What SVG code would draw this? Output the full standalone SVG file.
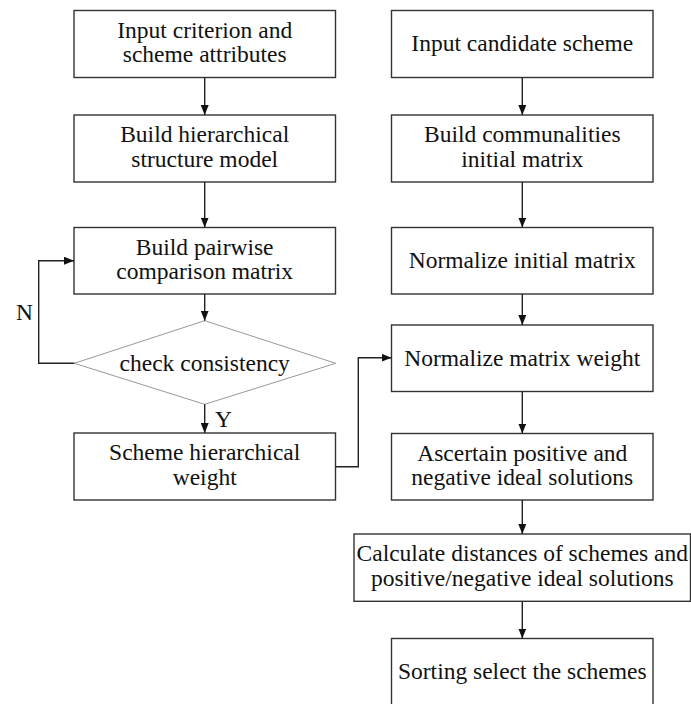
<svg xmlns="http://www.w3.org/2000/svg" width="691" height="704" viewBox="0 0 691 704">
  <style>
    .box { fill: #ffffff; stroke: #333333; stroke-width: 1.4; }
    .dia { fill: #ffffff; stroke: #999999; stroke-width: 1; }
    .lbl { font-family: "Liberation Serif", "Times New Roman", serif; font-size: 23.5px; fill: #111111; text-anchor: middle; }
    .tag { font-family: "Liberation Serif", "Times New Roman", serif; font-size: 23.5px; fill: #111111; }
    .edge { fill: none; stroke: #222222; stroke-width: 1.4; }
  </style>
  <defs>
    <marker id="arrow" viewBox="0 0 10 8" refX="10" refY="4" markerWidth="10" markerHeight="8" markerUnits="userSpaceOnUse" orient="auto">
      <path d="M0,0 L10,4 L0,8 Z" fill="#111111"/>
    </marker>
  </defs>

  <rect width="691" height="704" fill="#ffffff"/>

  <!-- left column: AHP weighting -->
  <g id="input-criterion">
    <rect class="box" x="74" y="10.5" width="261.5" height="67"/>
    <text class="lbl" x="204.7" y="37.5">Input criterion and</text>
    <text class="lbl" x="204.7" y="62">scheme  attributes</text>
  </g>
  <g id="build-hierarchy">
    <rect class="box" x="74" y="115" width="261.5" height="67"/>
    <text class="lbl" x="204.7" y="142">Build hierarchical</text>
    <text class="lbl" x="204.7" y="166.5">structure model</text>
  </g>
  <g id="pairwise-matrix">
    <rect class="box" x="74" y="227.5" width="261.5" height="66.5"/>
    <text class="lbl" x="204.7" y="254.5">Build pairwise</text>
    <text class="lbl" x="204.7" y="279">comparison matrix</text>
  </g>
  <g id="check-consistency">
    <polygon class="dia" points="204.7,320.7 335.7,363.3 204.7,404.3 74.3,363.3"/>
    <text class="lbl" x="204.7" y="371">check consistency</text>
  </g>
  <g id="hierarchical-weight">
    <rect class="box" x="74" y="433" width="261.5" height="67"/>
    <text class="lbl" x="204.7" y="460">Scheme hierarchical</text>
    <text class="lbl" x="204.7" y="484.5">weight</text>
  </g>

  <!-- right column: TOPSIS ranking -->
  <g id="input-candidate">
    <rect class="box" x="391.5" y="10.5" width="261.5" height="67"/>
    <text class="lbl" x="522.3" y="51">Input candidate scheme</text>
  </g>
  <g id="initial-matrix">
    <rect class="box" x="391.5" y="115" width="261.5" height="67"/>
    <text class="lbl" x="522.3" y="142">Build communalities</text>
    <text class="lbl" x="522.3" y="166.5">initial matrix</text>
  </g>
  <g id="normalize-initial">
    <rect class="box" x="391.5" y="227.5" width="261.5" height="66.5"/>
    <text class="lbl" x="522.3" y="268">Normalize initial matrix</text>
  </g>
  <g id="normalize-weight">
    <rect class="box" x="391.5" y="325" width="261.5" height="66.5"/>
    <text class="lbl" x="522.3" y="365.5">Normalize matrix weight</text>
  </g>
  <g id="ideal-solutions">
    <rect class="box" x="391.5" y="433.5" width="261.5" height="66.5"/>
    <text class="lbl" x="522.3" y="460.5">Ascertain positive and</text>
    <text class="lbl" x="522.3" y="485">negative ideal solutions</text>
  </g>
  <g id="distances">
    <rect class="box" x="354" y="534" width="336.5" height="67.3"/>
    <text class="lbl" x="522.3" y="561">Calculate distances of schemes and</text>
    <text class="lbl" x="522.3" y="585.5">positive/negative ideal solutions</text>
  </g>
  <g id="sorting">
    <rect class="box" x="391.5" y="638.5" width="261.5" height="67"/>
    <text class="lbl" x="522.3" y="678.5">Sorting select the schemes</text>
  </g>

  <!-- connectors -->
  <g id="connectors">
    <line class="edge" x1="204.7" y1="77.5" x2="204.7" y2="115" marker-end="url(#arrow)"/>
    <line class="edge" x1="204.7" y1="182" x2="204.7" y2="227.5" marker-end="url(#arrow)"/>
    <line class="edge" x1="204.7" y1="294" x2="204.7" y2="320.7" marker-end="url(#arrow)"/>
    <line class="edge" x1="204.7" y1="404.3" x2="204.7" y2="433" marker-end="url(#arrow)"/>
    <polyline class="edge" points="74.3,363.3 38.7,363.3 38.7,260.7 74,260.7" marker-end="url(#arrow)"/>
    <polyline class="edge" points="335.5,466.7 358.3,466.7 358.3,357.7 391.5,357.7" marker-end="url(#arrow)"/>

    <line class="edge" x1="522.3" y1="77.5" x2="522.3" y2="115" marker-end="url(#arrow)"/>
    <line class="edge" x1="522.3" y1="182" x2="522.3" y2="227.5" marker-end="url(#arrow)"/>
    <line class="edge" x1="522.3" y1="294" x2="522.3" y2="325" marker-end="url(#arrow)"/>
    <line class="edge" x1="522.3" y1="391.5" x2="522.3" y2="433.5" marker-end="url(#arrow)"/>
    <line class="edge" x1="522.3" y1="500" x2="522.3" y2="534" marker-end="url(#arrow)"/>
    <line class="edge" x1="522.3" y1="601.3" x2="522.3" y2="638.5" marker-end="url(#arrow)"/>

    <text class="tag" x="16" y="319.5">N</text>
    <text class="tag" x="215" y="427">Y</text>
  </g>
</svg>
